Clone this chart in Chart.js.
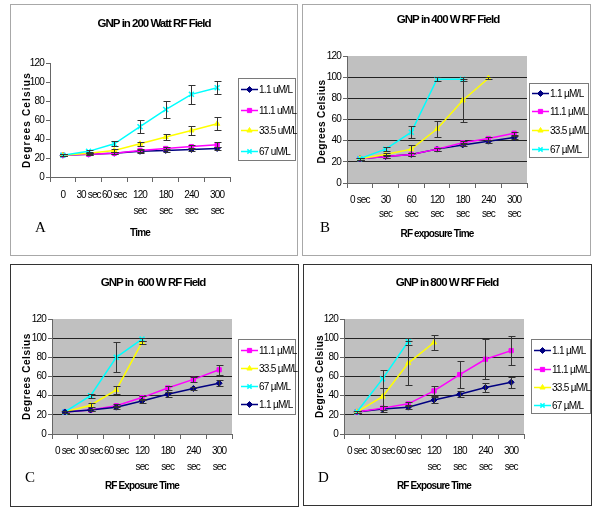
<!DOCTYPE html>
<html>
<head>
<meta charset="utf-8">
<script src="https://cdn.jsdelivr.net/npm/chart.js@4.4.1/dist/chart.umd.min.js"></script>
<style>
  body { margin: 0; background: #fff; width: 600px; height: 513px; position: relative; overflow: hidden; }
  .panel { position: absolute; box-sizing: border-box; border: 1px solid #a8a8a8; background: #fff; }
  .panel.dark { border-color: #333; }
  .panel canvas { display: block; }
  .tag { position: absolute; font-family: 'Liberation Serif', 'Times New Roman', serif; font-size: 15px; line-height: 15px; color: #000; }
</style>
</head>
<body>
<div class="panel" style="left:10px;top:4px;width:288px;height:252px"><canvas id="cA" width="286" height="250"></canvas></div>
<div class="panel" style="left:302px;top:4px;width:289px;height:252px"><canvas id="cB" width="287" height="250"></canvas></div>
<div class="panel dark" style="left:10px;top:264px;width:289px;height:243px"><canvas id="cC" width="287" height="241"></canvas></div>
<div class="panel dark" style="left:303px;top:264px;width:289px;height:242px"><canvas id="cD" width="287" height="240"></canvas></div>
<div class="tag" style="left:35px;top:220px">A</div>
<div class="tag" style="left:320px;top:220px">B</div>
<div class="tag" style="left:25px;top:470px">C</div>
<div class="tag" style="left:318px;top:470px">D</div>
<script>
// x tick labels
const labelsA = ['0', '30 sec', '60 sec', ['120', 'sec'], ['180', 'sec'], ['240', 'sec'], ['300', 'sec']];
const labelsB = ['0 sec', ['30', 'sec'], ['60', 'sec'], ['120', 'sec'], ['180', 'sec'], ['240', 'sec'], ['300', 'sec']];
const labelsCD = ['0 sec', '30 sec', '60 sec', ['120', 'sec'], ['180', 'sec'], ['240', 'sec'], ['300', 'sec']];

// A: 200 Watt
const a11 = [23, 24, 25, 27, 28, 29, 30];
const a11Err = [1, 1, 1, 1.5, 1.5, 1.5, 1.5];
const a111 = [23, 24, 25, 28, 30, 32, 34];
const a111Err = [1, 1, 1, 2, 2, 2, 2.5];
const a335 = [23, 25, 28, 35, 42, 49, 56];
const a335Err = [1, 1, 1.5, 2, 3.5, 4.5, 7];
const a67 = [23, 27, 35, 53, 71, 87, 94];
const a67Err = [1, 1.5, 2.5, 7, 9, 10, 7];

// B: 400 W
const b11 = [23, 25, 27, 32, 36, 39.5, 43];
const b11Err = [1, 1.5, 1.5, 1.5, 1.5, 1.5, 1.5];
const b111 = [23, 25, 27, 32, 38, 42, 47];
const b111Err = [1, 1.5, 1.5, 1.5, 1.5, 1.5, 1.5];
const b335 = [23, 27, 32, 51, 78, 99, null];
const b335Err = [1, 1.5, 3.5, 8, 20.5, 1, null];
const b67 = [23, 32, 48, 98, 98, null, null];
const b67Err = [1, 2, 5.5, 2, 2, null, null];

// C: 600 W (legend order as in the original)
const c111 = [23, 25, 29.5, 38, 48, 57, 67];
const c111Err = [1, 1, 1.5, 2, 2.5, 3, 5];
const c335 = [23, 30, 46, 95.5, null, null, null];
const c335Err = [1, 2, 4.5, 1.5, null, null, null];
const c67 = [23, 40, 80, 99, null, null, null];
const c67Err = [1, 2, 15.5, 1.5, null, null, null];
const c11 = [23, 25, 28, 34.5, 41.5, 47.5, 53];
const c11Err = [1, 1.5, 1.5, 2.5, 2.5, 2, 3];

// D: 800 W
const d11 = [23, 26, 28, 35.5, 41.5, 48.5, 54];
const d11Err = [1, 3, 2, 3, 3, 4.5, 5.5];
const d111 = [23, 27, 31.5, 45, 62, 78, 87];
const d111Err = [1, 2, 2, 5, 14.5, 21, 15];
const d335 = [23, 39, 74, 95.5, null, null, null];
const d335Err = [1, 9.5, 23, 8, null, null, null];
const d67 = [23, 57.5, 96.5, null, null, null, null];
const d67Err = [1, 9, 3.5, null, null, null, null];

const FONT = "'Liberation Sans', Arial, sans-serif";
const NAVY = '#000080', PINK = '#ff00ff', YELLOW = '#ffff00', CYAN = '#00ffff';
const TIGHT = '-0.85px';

// the original uses a narrow face; tighten all chart text
const tightText = {
  id: 'tightText',
  beforeUpdate(chart) { chart.ctx.letterSpacing = TIGHT; },
  beforeDraw(chart) { chart.ctx.letterSpacing = TIGHT; }
};

// gray plot area behind B, C, D
const plotBg = {
  id: 'plotBg',
  beforeDraw(chart, args, opts) {
    if (!opts.color) return;
    const { ctx, chartArea: a } = chart;
    ctx.save();
    ctx.fillStyle = opts.color;
    ctx.fillRect(a.left, a.top, a.right - a.left, a.bottom - a.top);
    ctx.restore();
  }
};

// error bars with caps, from the dataset's errors array
const errorBars = {
  id: 'errorBars',
  afterDatasetsDraw(chart) {
    const ctx = chart.ctx;
    const ys = chart.scales.y;
    chart.data.datasets.forEach((ds, i) => {
      if (!ds.errors) return;
      const meta = chart.getDatasetMeta(i);
      ctx.save();
      ctx.strokeStyle = '#333';
      ctx.lineWidth = 1;
      meta.data.forEach((pt, j) => {
        const v = ds.data[j], e = ds.errors[j];
        if (v == null || !e) return;
        const x = Math.round(pt.x) + 0.5;
        const top = Math.round(ys.getPixelForValue(v + e)) + 0.5;
        const bot = Math.round(ys.getPixelForValue(v - e)) + 0.5;
        ctx.beginPath();
        ctx.moveTo(x, top); ctx.lineTo(x, bot);
        ctx.moveTo(x - 3, top); ctx.lineTo(x + 4, top);
        ctx.moveTo(x - 3, bot); ctx.lineTo(x + 4, bot);
        ctx.stroke();
      });
      ctx.restore();
    });
  }
};

// chart title, centred on the whole panel
const panelTitle = {
  id: 'panelTitle',
  afterDraw(chart, args, o) {
    const ctx = chart.ctx;
    ctx.save();
    ctx.letterSpacing = '-1px';
    ctx.font = 'bold 11.5px ' + FONT;
    ctx.fillStyle = '#000';
    ctx.textAlign = 'center';
    ctx.textBaseline = 'middle';
    ctx.fillText(o.text, o.x, o.y);
    ctx.restore();
  }
};

// rotated, letter spaced value axis title
const yTitle = {
  id: 'yTitle',
  afterDraw(chart, args, o) {
    const { ctx, chartArea: a } = chart;
    ctx.save();
    ctx.translate(o.x, (a.top + a.bottom) / 2 + o.dy);
    ctx.rotate(-Math.PI / 2);
    ctx.letterSpacing = o.spacing + 'px';
    ctx.font = 'bold 10px ' + FONT;
    ctx.fillStyle = '#000';
    ctx.textAlign = 'center';
    ctx.textBaseline = 'middle';
    ctx.fillText('Degrees Celsius', 0, 0);
    ctx.restore();
  }
};

// Excel style boxed legend, line sample with marker
const boxLegend = {
  id: 'boxLegend',
  afterDraw(chart, args, o) {
    const ctx = chart.ctx;
    ctx.save();
    ctx.strokeStyle = '#7a7a7a';
    ctx.lineWidth = 1;
    ctx.strokeRect(o.x + 0.5, o.y + 0.5, o.w, o.h);
    ctx.letterSpacing = '-0.7px';
    ctx.font = '10px ' + FONT;
    ctx.textBaseline = 'middle';
    ctx.textAlign = 'left';
    chart.data.datasets.forEach((ds, i) => {
      const cy = Math.round(o.y + o.first + i * o.step) + 0.5;
      ctx.strokeStyle = ds.borderColor;
      ctx.fillStyle = ds.borderColor;
      ctx.lineWidth = 1.5;
      ctx.beginPath();
      ctx.moveTo(o.x + 3, cy); ctx.lineTo(o.x + 20, cy);
      ctx.stroke();
      ctx.lineWidth = ds.pointStyle === 'crossRot' ? 1.5 : 1;
      Chart.helpers.drawPoint(ctx, { pointStyle: ds.pointStyle, radius: 3, rotation: 0, borderWidth: ctx.lineWidth }, o.x + 11.5, cy);
      ctx.fillStyle = '#000';
      ctx.fillText(ds.label, o.x + 21, cy + 0.5);
    });
    ctx.restore();
  }
};

function series(label, values, errors, color, style) {
  return { label, values, errors, color, style };
}

function makeChart(id, p) {
  const n = p.series.length;
  new Chart(document.getElementById(id), {
    type: 'line',
    data: {
      labels: p.labels,
      datasets: p.series.map((s, i) => ({
        label: s.label,
        data: s.values,
        errors: s.errors,
        borderColor: s.color,
        backgroundColor: s.color,
        pointBackgroundColor: s.color,
        pointBorderColor: s.color,
        pointStyle: s.style,
        pointRadius: s.style === 'crossRot' ? 3.5 : 3,
        pointBorderWidth: s.style === 'crossRot' ? 1.5 : 1,
        borderWidth: 1.5,
        tension: 0,
        spanGaps: false,
        order: n - i
      }))
    },
    options: {
      responsive: false,
      animation: false,
      events: [],
      layout: { padding: { left: 0, top: p.chartTop, bottom: 0, right: p.padRight } },
      plugins: {
        legend: { display: false },
        tooltip: { enabled: false },
        title: { display: false },
        panelTitle: p.title,
        plotBg: { color: p.gray ? '#c0c0c0' : null },
        yTitle: p.yTitle,
        boxLegend: p.legend
      },
      scales: {
        x: {
          offset: true,
          grid: { offset: true, drawOnChartArea: false, tickLength: 5, color: '#666' },
          border: { color: '#666' },
          ticks: { autoSkip: false, maxRotation: 0, padding: p.xPad, color: '#000',
                   font: { family: FONT, size: 10, lineHeight: p.xLine } },
          title: { display: true, text: p.xTitle, color: '#000',
                   font: { family: FONT, size: 10, weight: 'bold', lineHeight: '14px' },
                   padding: { top: 0, bottom: p.xTitleBottom } },
          afterFit: s => { s.height = p.xHeight; }
        },
        y: {
          min: 0, max: 120,
          grid: {
            drawOnChartArea: p.gray, tickLength: 4, tickColor: '#666',
            color: c => (c.tick && (c.tick.value === 0 || c.tick.value === 120)) ? 'rgba(0,0,0,0)' : '#222'
          },
          border: { color: '#666' },
          ticks: { stepSize: 20, padding: 2, color: '#000', font: { family: FONT, size: 10 } },
          afterFit: s => { s.width = p.yWidth; }
        }
      }
    },
    plugins: [tightText, plotBg, errorBars, panelTitle, yTitle, boxLegend]
  });
}

makeChart('cA', {
  title: { text: 'GNP in 200 Watt RF Field', x: 143, y: 19 },
  xTitle: 'Time', labels: labelsA, gray: false,
  series: [
    series('1.1 uM/L', a11, a11Err, NAVY, 'rectRot'),
    series('11.1 uM/L', a111, a111Err, PINK, 'rect'),
    series('33.5 uM/L', a335, a335Err, YELLOW, 'triangle'),
    series('67 uM/L', a67, a67Err, CYAN, 'crossRot')
  ],
  padRight: 67, chartTop: 58, yWidth: 39, xHeight: 78,
  xLine: '16px', xPad: 5, xTitleBottom: 15,
  yTitle: { x: 16, dy: 0, spacing: 1.2 },
  legend: { x: 227, y: 73, w: 57, h: 82, first: 11, step: 20.5 }
});

makeChart('cB', {
  title: { text: 'GNP in 400 W RF Field', x: 145, y: 15 },
  xTitle: 'RF exposure Time', labels: labelsB, gray: true,
  series: [
    series('1.1 \u00b5M/L', b11, b11Err, NAVY, 'rectRot'),
    series('11.1 \u00b5M/L', b111, b111Err, PINK, 'rect'),
    series('33.5 \u00b5M/L', b335, b335Err, YELLOW, 'triangle'),
    series('67 \u00b5M/L', b67, b67Err, CYAN, 'crossRot')
  ],
  padRight: 63, chartTop: 51, yWidth: 44, xHeight: 72,
  xLine: '14px', xPad: 5, xTitleBottom: 14,
  yTitle: { x: 19, dy: 2, spacing: 0.4 },
  legend: { x: 226, y: 78, w: 59, h: 74, first: 9.5, step: 18.7 }
});

makeChart('cC', {
  title: { text: 'GNP in  600 W RF Field', x: 142, y: 18 },
  xTitle: 'RF Exposure Time', labels: labelsCD, gray: true,
  series: [
    series('11.1 \u00b5M/L', c111, c111Err, PINK, 'rect'),
    series('33.5 \u00b5M/L', c335, c335Err, YELLOW, 'triangle'),
    series('67 \u00b5M/L', c67, c67Err, CYAN, 'crossRot'),
    series('1.1 \u00b5M/L', c11, c11Err, NAVY, 'rectRot')
  ],
  padRight: 66, chartTop: 54, yWidth: 41, xHeight: 72,
  xLine: '16px', xPad: 4, xTitleBottom: 13,
  yTitle: { x: 16, dy: 0, spacing: 0.6 },
  legend: { x: 227, y: 74, w: 57, h: 75, first: 11.3, step: 18 }
});

makeChart('cD', {
  title: { text: 'GNP in 800 W RF Field', x: 143, y: 18 },
  xTitle: 'RF Exposure Time', labels: labelsCD, gray: true,
  series: [
    series('1.1 \u00b5M/L', d11, d11Err, NAVY, 'rectRot'),
    series('11.1 \u00b5M/L', d111, d111Err, PINK, 'rect'),
    series('33.5 \u00b5M/L', d335, d335Err, YELLOW, 'triangle'),
    series('67 \u00b5M/L', d67, d67Err, CYAN, 'crossRot')
  ],
  padRight: 67, chartTop: 54, yWidth: 40, xHeight: 71,
  xLine: '16px', xPad: 4, xTitleBottom: 12,
  yTitle: { x: 16, dy: 0, spacing: 0.35 },
  legend: { x: 227, y: 74, w: 59, h: 74, first: 11.3, step: 18.3 }
});
</script>
</body>
</html>
